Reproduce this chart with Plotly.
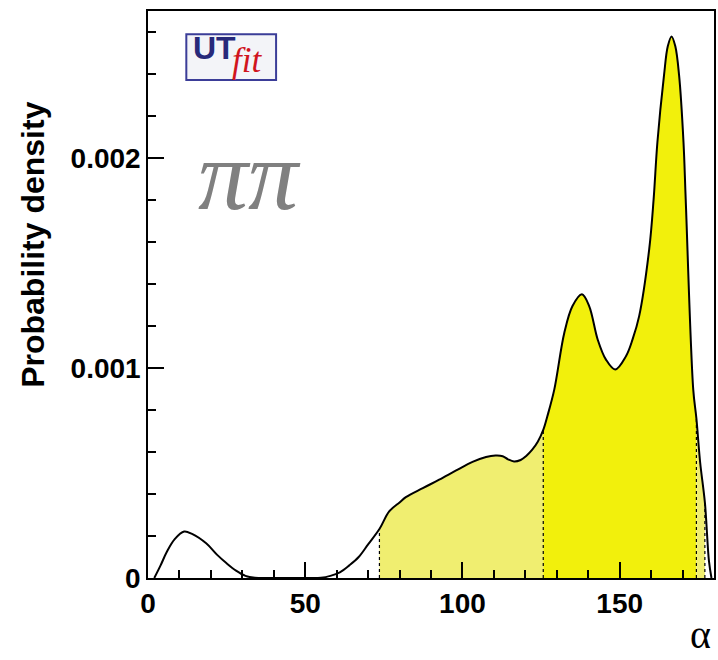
import plotly.graph_objects as go

# Posterior density of the CKM angle alpha from B -> pi pi
alpha = [2.0, 4.0, 6.0, 8.5, 11.5, 14.0, 18.5, 22.0, 25.0, 28.0, 31.0, 34.0, 40.0,
         50.0, 55.0, 58.0, 61.0, 64.0, 67.0, 70.0, 73.6, 76.7, 80.0, 82.0, 87.4,
         92.6, 98.0, 103.2, 107.5, 110.5, 112.8, 114.5, 116.4, 118.5, 120.2, 122.2,
         124.0, 125.7, 127.0, 129.2, 132.4, 135.0, 138.0, 140.3, 143.0, 145.6,
         148.6, 152.0, 154.1, 156.2, 159.4, 160.8, 162.0, 164.1, 165.3, 166.5,
         167.7, 168.9, 170.3, 171.0, 173.4, 174.4, 175.6, 177.1, 178.4, 179.2]
density = [0.0, 0.060, 0.125, 0.185, 0.221, 0.210, 0.165, 0.110, 0.070, 0.035,
           0.010, 0.001, 0.0, 0.0, 0.001, 0.010, 0.027, 0.060, 0.100, 0.160,
           0.233, 0.317, 0.360, 0.385, 0.428, 0.468, 0.512, 0.553, 0.576, 0.583,
           0.580, 0.565, 0.555, 0.562, 0.580, 0.611, 0.650, 0.705, 0.770, 0.897,
           1.168, 1.295, 1.351, 1.295, 1.136, 1.041, 0.993, 1.056, 1.136, 1.247,
           1.566, 1.804, 2.075, 2.393, 2.532, 2.579, 2.532, 2.393, 2.075, 1.804,
           0.897, 0.760, 0.550, 0.360, 0.080, 0.0]
density = [d * 1e-3 for d in density]

# Credible-interval boundaries (95% outer, 68% inner)
outer_lo, inner_lo, inner_hi, outer_hi = 73.6, 125.7, 174.4, 177.1

light = "#f0ee70"
bright = "#f2f00c"


def segment(lo, hi):
    xs, ys = [], []
    for a, d in zip(alpha, density):
        if lo <= a <= hi:
            xs.append(a)
            ys.append(d)
    return xs, ys


fig = go.Figure()

for lo, hi, col in [(outer_lo, inner_lo, light), (inner_lo, inner_hi, bright),
                    (inner_hi, outer_hi, light)]:
    xs, ys = segment(lo, hi)
    fig.add_trace(go.Scatter(x=xs, y=ys, mode="lines", fill="tozeroy",
                             fillcolor=col, line=dict(width=0, shape="spline"),
                             hoverinfo="skip", showlegend=False))

for b in (outer_lo, inner_lo, inner_hi, outer_hi):
    h = density[alpha.index(b)]
    fig.add_trace(go.Scatter(x=[b, b], y=[0, h], mode="lines",
                             line=dict(color="black", width=1.2, dash="dot"),
                             hoverinfo="skip", showlegend=False))

fig.add_trace(go.Scatter(x=alpha, y=density, mode="lines",
                         line=dict(color="black", width=2, shape="spline"),
                         showlegend=False))

tick_font = dict(family="Liberation Sans", size=28, color="black", weight="bold")

fig.update_xaxes(range=[0, 180], tickvals=[0, 50, 100, 150],
                 ticktext=["0", "50", "100", "150"],
                 ticks="inside", ticklen=16, tickwidth=1.5, tickcolor="black",
                 minor=dict(dtick=10, tick0=0, ticks="inside", ticklen=8,
                            tickwidth=1.5, tickcolor="black"),
                 showline=True, linecolor="black", linewidth=1.5, mirror=True,
                 showgrid=False, zeroline=False, tickfont=tick_font)
fig.update_yaxes(range=[0, 0.0027], tickvals=[0, 0.001, 0.002],
                 ticktext=["0", "0.001", "0.002"],
                 ticks="inside", ticklen=16, tickwidth=1.5, tickcolor="black",
                 minor=dict(dtick=0.0002, tick0=0, ticks="inside", ticklen=8,
                            tickwidth=1.5, tickcolor="black"),
                 showline=True, linecolor="black", linewidth=1.5, mirror=True,
                 showgrid=False, zeroline=False, tickfont=tick_font)

annotations = [
    dict(text="Probability density", x=-0.202, y=0.587, xref="paper", yref="paper",
         textangle=-90, showarrow=False, xanchor="center", yanchor="middle",
         font=dict(family="Liberation Sans", size=32, color="black", weight="bold")),
    dict(text="α", x=0.976, y=-0.100, xref="paper", yref="paper", showarrow=False,
         xanchor="center", yanchor="middle",
         font=dict(family="Liberation Serif", size=40, color="black")),
    dict(text="ππ", x=0.179, y=0.709, xref="paper", yref="paper", showarrow=False,
         xanchor="center", yanchor="middle",
         font=dict(family="Liberation Serif", size=100, color="#808080",
                   style="italic")),
    dict(text="UT", x=0.076, y=0.935, xref="paper", yref="paper", showarrow=False,
         xanchor="left", yanchor="middle",
         font=dict(family="Liberation Sans", size=32, color="#27297a", weight="bold")),
    dict(text="fit", x=0.144, y=0.912, xref="paper", yref="paper", showarrow=False,
         xanchor="left", yanchor="middle",
         font=dict(family="Liberation Serif", size=35, color="#d0141e", style="italic")),
]

fig.update_layout(
    width=718, height=660,
    margin=dict(l=148, r=2, t=11, b=82),
    paper_bgcolor="white", plot_bgcolor="white",
    annotations=annotations,
    shapes=[dict(type="rect", xref="paper", yref="paper",
                 x0=0.0677, x1=0.2263, y0=0.8783, y1=0.9589,
                 line=dict(color="#3b3d98", width=2), fillcolor="#f3f4f8",
                 layer="below")],
)

fig.write_html("out.html")
